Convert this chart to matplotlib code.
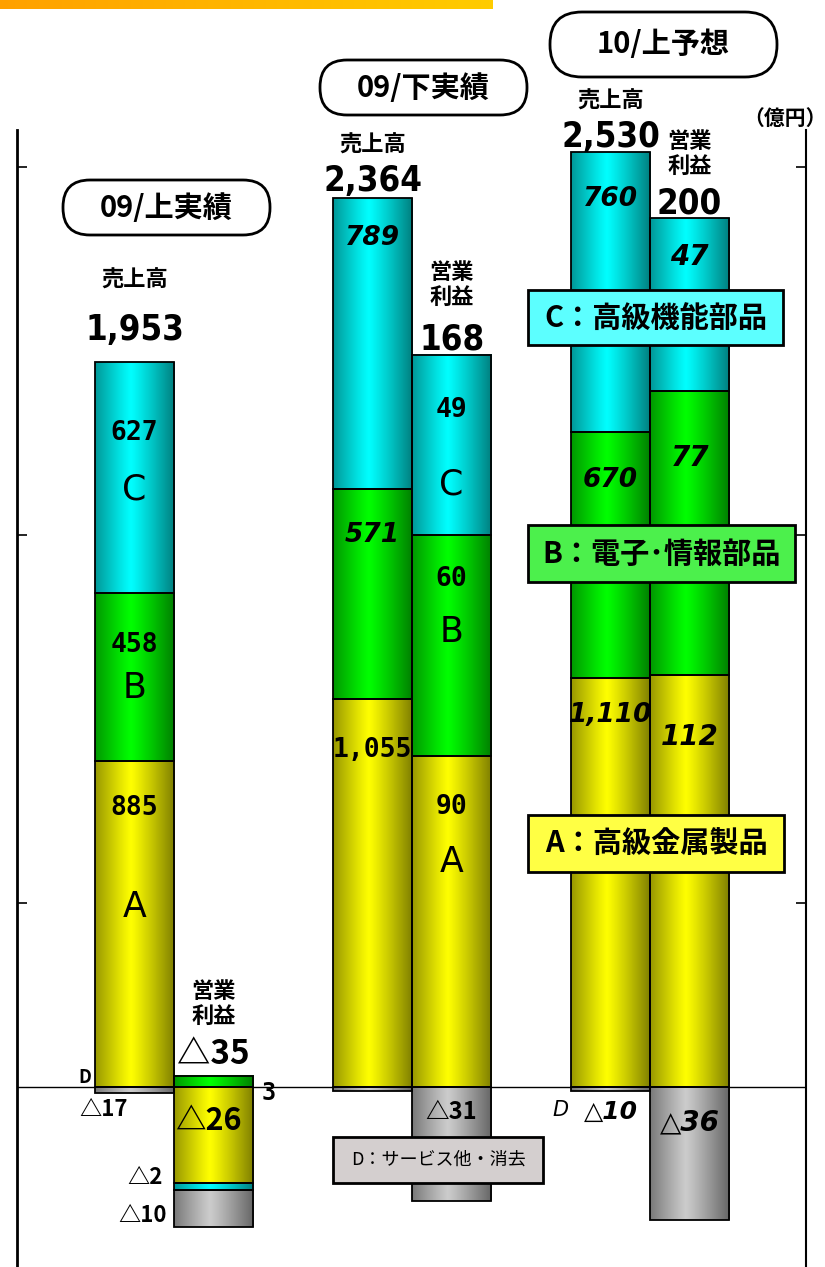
import numpy as np
import matplotlib
matplotlib.use("Agg")
import matplotlib.pyplot as plt
from matplotlib.patches import FancyBboxPatch
from matplotlib.transforms import IdentityTransform

plt.rcParams['font.family'] = ['Noto Sans CJK JP', 'DejaVu Sans']

# ---- data (億円) ----
groups = ['09/上実績', '09/下実績', '10/上予想']
sales_A = [885, 1055, 1110]
sales_B = [458, 571, 670]
sales_C = [627, 789, 760]
sales_D = [-17, -12, -10]
sales_total = ['1,953', '2,364', '2,530']

profit_A = [-26, 90, 112]
profit_B = [3, 60, 77]
profit_C = [-2, 49, 47]
profit_D = [-10, -31, -36]
profit_total = ['△35', '168', '200']

PROFIT_SCALE = 10   # operating profit drawn at 10x the sales scale

W, H = 825, 1267
fig = plt.figure(figsize=(W / 100, H / 100), dpi=100)
ax = fig.add_axes([17 / W, 0, 789 / W, (H - 130) / H])

base_colors = {'A': (1.0, 1.0, 0.0), 'B': (0.0, 1.0, 0.0),
               'C': (0.0, 1.0, 1.0), 'D': (0.80, 0.80, 0.80)}


def cylinder(color, n=64):
    # horizontal shading: dark edges, bright band a bit left of centre
    t = np.linspace(0, 1, n)
    f = 1 - 0.5 * (np.abs(t - 0.45) / 0.55) ** 1.1
    rgb = np.clip(np.outer(f, color), 0, 1)
    return rgb[np.newaxis, :, :]


def stacked(x, width, parts):
    pos, neg = 0.0, 0.0
    for key, v in parts:
        if v >= 0:
            b = pos
            pos += v
        else:
            b = neg
            neg += v
        ax.imshow(cylinder(base_colors[key]), extent=(x - width / 2, x + width / 2, b, b + v),
                  aspect='auto', zorder=2, interpolation='bilinear')
        ax.bar(x, v, width, bottom=b, facecolor='none', edgecolor='black', lw=1.3, zorder=3)


w = 79 / 238
xs = np.arange(len(groups))
xs_sales = xs - w / 2
xs_profit = xs + w / 2

for i in range(len(groups)):
    stacked(xs_sales[i], w, [('A', sales_A[i]), ('B', sales_B[i]), ('C', sales_C[i]), ('D', sales_D[i])])
    stacked(xs_profit[i], w, [('A', profit_A[i] * PROFIT_SCALE), ('B', profit_B[i] * PROFIT_SCALE),
                              ('C', profit_C[i] * PROFIT_SCALE), ('D', profit_D[i] * PROFIT_SCALE)])

ax.axhline(0, color='black', lw=1.0, zorder=1)
ax.set_xlim(-0.66, 2.655)
ax.set_ylim(-489, 2600)
ax.set_yticks([500, 1500, 2500])
ax.set_yticklabels([])
ax.set_xticks([])
ax.tick_params(axis='y', direction='in', length=7, width=1.2, left=True, right=True)
for s in ['top', 'bottom']:
    ax.spines[s].set_visible(False)
ax.spines['left'].set_linewidth(2)
ax.spines['right'].set_linewidth(1.5)

JP = ['Noto Sans CJK JP', 'DejaVu Sans']
MONO = ['DejaVu Sans Mono', 'Noto Sans CJK JP']
ITAL = ['DejaVu Sans']
LAT = ['DejaVu Sans']


def t(x, y, s, size, family=JP, italic=False, weight='bold', stretch='normal', **kw):
    ax.text(x, y, s, fontsize=size, family=family, fontweight=weight, fontstretch=stretch,
            style='italic' if italic else 'normal', ha='center', va='center',
            zorder=6, clip_on=False, **kw)


def total(x, y, s):
    t(x, y, s, 25, family=['DejaVu Sans'], weight='bold', stretch='condensed')


P = PROFIT_SCALE
# 09/上実績
t(xs_sales[0], 2193, '売上高', 16)
total(xs_sales[0], 2057, sales_total[0])
t(xs_sales[0], 1777, '627', 19, family=MONO)
t(xs_sales[0], 1622, 'C', 25, weight='medium', family=LAT)
t(xs_sales[0], 1201, '458', 19, family=MONO)
t(xs_sales[0], 1084, 'B', 25, weight='medium', family=LAT)
t(xs_sales[0], 758, '885', 19, family=MONO)
t(xs_sales[0], 489, 'A', 25, weight='medium', family=LAT)
t(xs_sales[0] - 0.21, 27, 'D', 13)
t(xs_sales[0] - 0.13, -62, '△17', 16)
t(xs_profit[0], 22.5 * P, '営業\n利益', 16, linespacing=1.1)
t(xs_profit[0], 8.7 * P, profit_total[0], 24)
t(xs_profit[0] + 0.23, -1.6 * P, '3', 17, family=MONO)
t(xs_profit[0] - 0.02, -9.2 * P, '△26', 22)
t(xs_profit[0] - 0.29, -24.7 * P, '△2', 16)
t(xs_profit[0] - 0.30, -35 * P, '△10', 16)

# 09/下実績
t(xs_sales[1], 2560, '売上高', 16)
total(xs_sales[1], 2462, sales_total[1])
t(xs_sales[1], 2307, '789', 19, family=ITAL, italic=True)
t(xs_sales[1], 1500, '571', 19, family=ITAL, italic=True)
t(xs_sales[1], 916, '1,055', 19, family=MONO)
t(xs_profit[1], 2180, '営業\n利益', 16, linespacing=1.1)
total(xs_profit[1], 203 * P, profit_total[1])
t(xs_profit[1], 184 * P, '49', 19, family=MONO)
t(xs_profit[1], 163.6 * P, 'C', 25, weight='medium', family=LAT)
t(xs_profit[1], 138 * P, '60', 19, family=MONO)
t(xs_profit[1], 123.6 * P, 'B', 25, weight='medium', family=LAT)
t(xs_profit[1], 76 * P, '90', 19, family=MONO)
t(xs_profit[1], 61 * P, 'A', 25, weight='medium', family=LAT)
t(xs_profit[1], -6.8 * P, '△31', 17)

# 10/上予想
t(xs_sales[2], 2677, '売上高', 16)
total(xs_sales[2], 2582, sales_total[2])
t(xs_sales[2], 2413, '760', 19, family=ITAL, italic=True)
t(xs_sales[2], 1649, '670', 19, family=ITAL, italic=True)
t(xs_sales[2], 1011, '1,110', 19, family=ITAL, italic=True)
t(xs_sales[2] - 0.21, -62, 'D', 15, family=ITAL, italic=True, weight='normal')
t(xs_sales[2], -68, '△10', 18, family=ITAL, italic=True)
t(xs_profit[2], 2535, '営業\n利益', 16, linespacing=1.1)
total(xs_profit[2], 240 * P, profit_total[2])
t(xs_profit[2], 225.5 * P, '47', 20, family=ITAL, italic=True)
t(xs_profit[2], 171 * P, '77', 20, family=ITAL, italic=True)
t(xs_profit[2], 95 * P, '112', 20, family=ITAL, italic=True)
t(xs_profit[2], -9.5 * P, '△36', 20, family=ITAL, italic=True)


# ---- boxes in figure pixel coordinates (top-left origin) ----
def box(x0, y0, x1, y1, text, size, face, rounding=0, lw=1.5, weight='bold'):
    style = f'round,pad=0,rounding_size={rounding}' if rounding else 'square,pad=0'
    patch = FancyBboxPatch((x0, H - y1), x1 - x0, y1 - y0, boxstyle=style,
                           transform=IdentityTransform(), facecolor=face, edgecolor='black',
                           lw=lw, zorder=5)
    fig.add_artist(patch)
    fig.text((x0 + x1) / 2 / W, 1 - (y0 + y1) / 2 / H, text, fontsize=size, fontweight=weight,
             ha='center', va='center', zorder=7)


box(63, 180, 270, 235, groups[0], 21, 'white', rounding=27, lw=2)
box(320, 60, 527, 115, groups[1], 21, 'white', rounding=27, lw=2)
box(550, 12, 777, 77, groups[2], 21, 'white', rounding=32, lw=2)

box(528, 290, 783, 345, 'C：高級機能部品', 21, '#5CFFFF', lw=2)
box(528, 525, 795, 582, 'B：電子･情報部品', 21, '#4CF04C', lw=2)
box(528, 815, 784, 872, 'A：高級金属製品', 21, '#FFFF44', lw=2)
box(333, 1137, 543, 1183, 'D：サービス他・消去', 13, '#D4CFCF', lw=2, weight='normal')

fig.text(785 / W, 1 - 118 / H, '（億円）', fontsize=15, fontweight='bold', ha='center', va='center')

# orange strip on top
strip = fig.add_axes([0, 1 - 9 / H, 493 / W, 9 / H])
g = np.linspace(0, 1, 128)
strip_rgb = np.stack([np.full_like(g, 1.0), 0.63 + 0.17 * g, np.zeros_like(g)], axis=-1)[np.newaxis]
strip.imshow(strip_rgb, aspect='auto', extent=(0, 1, 0, 1))
strip.axis('off')

fig.savefig('out.png', dpi=100)
